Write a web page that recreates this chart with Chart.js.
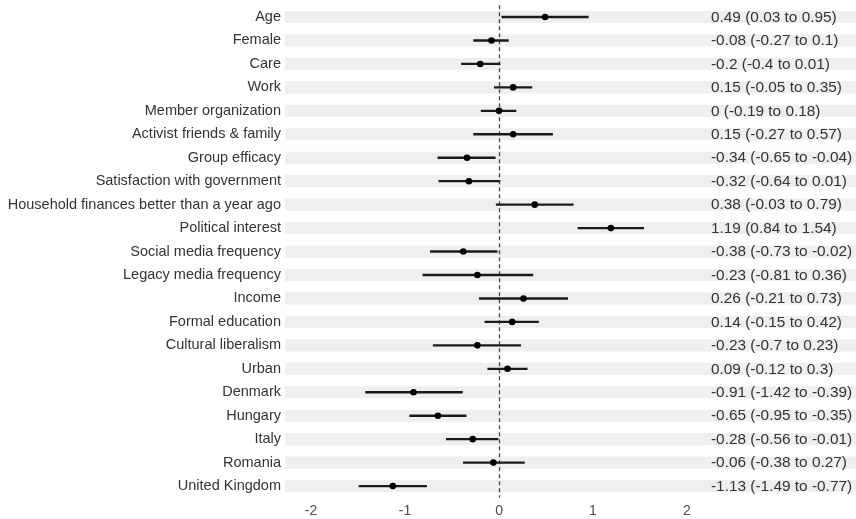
<!DOCTYPE html>
<html>
<head>
<meta charset="utf-8">
<script src="https://cdn.jsdelivr.net/npm/chart.js@4/dist/chart.umd.min.js"></script>
<style>
html,body{margin:0;padding:0;background:#fff;}
#wrap{width:856px;height:519px;}
</style>
</head>
<body>
<div id="wrap"><canvas id="c" width="856" height="519"></canvas></div>
<script>
const categories = ["Age","Female","Care","Work","Member organization","Activist friends & family","Group efficacy","Satisfaction with government","Household finances better than a year ago","Political interest","Social media frequency","Legacy media frequency","Income","Formal education","Cultural liberalism","Urban","Denmark","Hungary","Italy","Romania","United Kingdom"];
const estimates = [0.49,-0.08,-0.2,0.15,0,0.15,-0.34,-0.32,0.38,1.19,-0.38,-0.23,0.26,0.14,-0.23,0.09,-0.91,-0.65,-0.28,-0.06,-1.13];
const lower = [0.03,-0.27,-0.4,-0.05,-0.19,-0.27,-0.65,-0.64,-0.03,0.84,-0.73,-0.81,-0.21,-0.15,-0.7,-0.12,-1.42,-0.95,-0.56,-0.38,-1.49];
const upper = [0.95,0.1,0.01,0.35,0.18,0.57,-0.04,0.01,0.79,1.54,-0.02,0.36,0.73,0.42,0.23,0.3,-0.39,-0.35,-0.01,0.27,-0.77];
const xTicks = [-2,-1,0,1,2];

const X_MIN = -2.277, X_MAX = 3.798, TEXT_AT = 2.255;
const FONT = "'Liberation Sans', Arial, sans-serif";

const ciLabels = estimates.map((e,i)=>`${e} (${lower[i]} to ${upper[i]})`);

const overlay = {
  id:'overlay',
  afterDatasetDraw(chart, args){
    if(args.index !== 0) return;
    const ctx = chart.ctx, xs = chart.scales.x, a = chart.chartArea;
    const x0 = Math.round(xs.getPixelForValue(0)) + 0.5;
    ctx.save();
    ctx.strokeStyle = '#444';
    ctx.lineWidth = 1.3;
    ctx.setLineDash([4,3]);
    ctx.beginPath();
    ctx.moveTo(x0, a.top);
    ctx.lineTo(x0, a.bottom);
    ctx.stroke();
    ctx.restore();
  },
  afterDatasetsDraw(chart){
    const ctx = chart.ctx, xs = chart.scales.x, ys = chart.scales.y;
    ctx.save();
    ctx.fillStyle = '#333';
    ctx.font = '15.4px ' + FONT;
    ctx.textAlign = 'left';
    ctx.textBaseline = 'middle';
    const tx = xs.getPixelForValue(TEXT_AT);
    ciLabels.forEach((t,i)=>{
      ctx.fillText(t, tx, ys.getPixelForValue(i) + 0.5);
    });
    ctx.restore();
  }
};

new Chart(document.getElementById('c'), {
  type:'bar',
  data:{
    labels: categories,
    datasets:[
      {
        label:'band',
        data: categories.map(()=>[X_MIN, X_MAX]),
        backgroundColor:'#efefef',
        barThickness: 11.5,
        grouped:false,
        order:3
      },
      {
        label:'ci',
        data: lower.map((l,i)=>[l, upper[i]]),
        backgroundColor:'#1a1a1a',
        barThickness: 1.7,
        grouped:false,
        order:2
      },
      {
        type:'line',
        label:'est',
        indexAxis:'y',
        data: estimates,
        showLine:false,
        pointRadius:3.3,
        pointBackgroundColor:'#000',
        pointBorderColor:'#000',
        pointBorderWidth:0,
        order:1
      }
    ]
  },
  options:{
    indexAxis:'y',
    responsive:false,
    animation:false,
    events:[],
    layout:{autoPadding:false, padding:{top:5.3,left:0,right:0,bottom:0}},
    plugins:{legend:{display:false}, tooltip:{enabled:false}},
    scales:{
      x:{
        type:'linear',
        min:X_MIN, max:X_MAX,
        afterBuildTicks(s){ s.ticks = xTicks.map(v=>({value:v})); },
        afterFit(s){ s.height = 21.2; s.paddingLeft = 0; s.paddingRight = 0; },
        grid:{display:false, drawTicks:false},
        border:{display:false},
        ticks:{color:'#4d4d4d', font:{family:FONT, size:14}, padding:5, autoSkip:false, maxRotation:0}
      },
      y:{
        type:'category',
        offset:true,
        afterFit(s){ s.width = 285; s.paddingTop = 0; s.paddingBottom = 0; },
        grid:{display:false, drawTicks:false},
        border:{display:false},
        ticks:{color:'#333', font:{family:FONT, size:14.5}, padding:4, autoSkip:false}
      }
    }
  },
  plugins:[overlay]
});
</script>
</body>
</html>
